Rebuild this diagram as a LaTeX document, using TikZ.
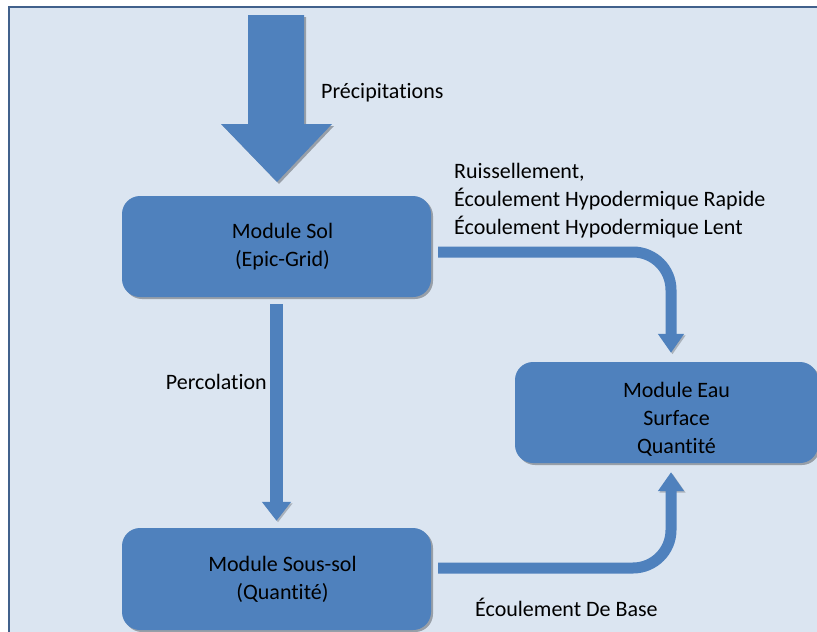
\documentclass[tikz,border=0pt]{standalone}
\usepackage{fontspec}
\setmainfont{Carlito}[Ligatures=CommonOff]
\usetikzlibrary{arrows.meta,shadows}
\definecolor{bg}{HTML}{DBE5F1}
\definecolor{framecol}{HTML}{41618C}
\definecolor{boxblue}{HTML}{4F81BD}
\begin{document}
\begin{tikzpicture}[x=1pt,y=-1pt,
  font=\fontsize{22}{28}\selectfont,
  box/.style={fill=boxblue, rounded corners=18pt, inner sep=0pt, align=center,
    drop shadow={shadow xshift=2pt, shadow yshift=-2pt, opacity=0.3, fill=black}},
  flow/.style={draw=boxblue, line width=11pt, -{Triangle[width=25pt,length=19pt]}, rounded corners=38pt,
    preaction={draw=black, opacity=0.22, transform canvas={xshift=1.5pt,yshift=-1.5pt}}},
  lbl/.style={inner sep=0pt, align=left}]
\useasboundingbox (0,0) rectangle (817,632);
\clip (0,0) rectangle (817,632);
\fill[white] (0,0) rectangle (817,632);
\fill[bg] (9,7) rectangle (830,645);
\draw[framecol, line width=2pt] (9,645) -- (9,7) -- (830,7);

% big precipitation arrow
\fill[boxblue, drop shadow={shadow xshift=2pt, shadow yshift=-2pt, opacity=0.3, fill=black}]
  (248,15) -- (304,15) -- (304,124) -- (332,124) -- (277,182) -- (221,124) -- (248,124) -- cycle;

\node[box, minimum width=309pt, minimum height=101pt] (sol) at (276.5,246.5)
  {\hspace*{12pt}Module Sol\\\hspace*{12pt}(Epic-Grid)};
\node[box, minimum width=309pt, minimum height=102pt] (soussol) at (276.5,579)
  {\hspace*{12pt}Module Sous-sol\\\hspace*{12pt}(Quantité)};
\node[box, minimum width=303pt, minimum height=101pt] (eau) at (666.5,412.5)
  {\rule{0pt}{28pt}\hspace*{20pt}Module Eau\\\hspace*{20pt}Surface\\\hspace*{20pt}Quantité};

\draw[flow] ([shift={(7,5.5)}]sol.east) -| ([shift={(4.5,-9)}]eau.north);
\draw[flow] ([shift={(7,-11)}]soussol.east) -| ([shift={(4.5,9)}]eau.south);
\draw[flow, line width=13pt, -{Triangle[width=28pt,length=19pt]}] ([yshift=-7pt]sol.south) -- ([yshift=7pt]soussol.north);

\node[lbl, anchor=west] (lprecip) at (321,93) {Précipitations};
\node[lbl, anchor=west] (lruis) at (454,201) {Ruissellement,\\Écoulement Hypodermique Rapide\\Écoulement Hypodermique Lent};
\node[lbl, anchor=east] (lperc) at (267,382) {Percolation};
\node[lbl, anchor=west] (lbase) at (475,607) {Écoulement De Base};
\end{tikzpicture}
\end{document}
